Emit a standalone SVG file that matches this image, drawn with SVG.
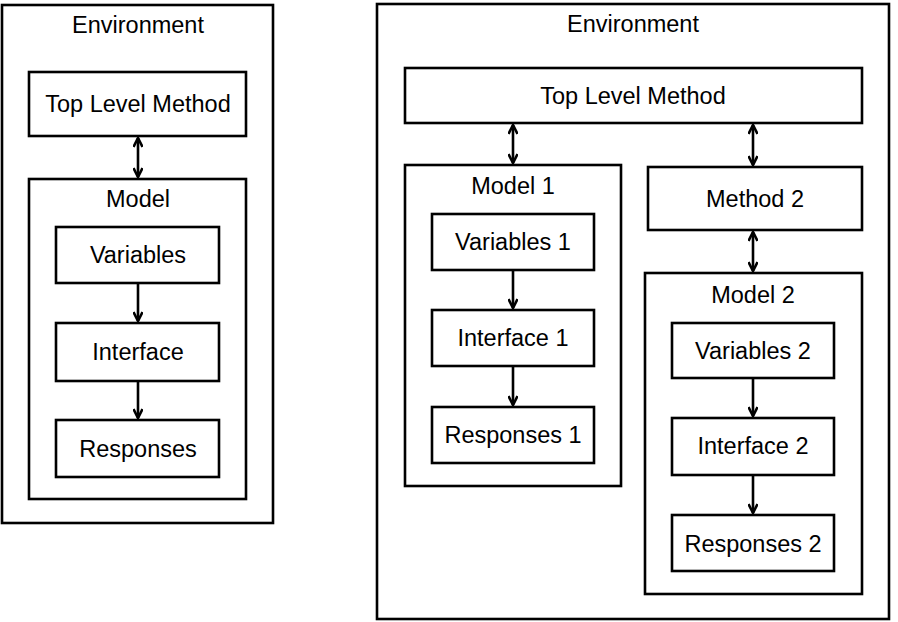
<svg xmlns="http://www.w3.org/2000/svg" width="898" height="622" viewBox="0 0 898 622">
<defs>
<style>
.box{fill:#fff;stroke:#000;stroke-width:2.6}
.t{font-family:"Liberation Sans",Arial,sans-serif;font-size:23.5px;fill:#000;text-anchor:middle}
.c{stroke:#000;stroke-width:2.6;fill:none}
</style>
<marker id="ah" viewBox="0 0 12 10" refX="10" refY="5" markerWidth="12" markerHeight="10" markerUnits="userSpaceOnUse" orient="auto-start-reverse">
<path d="M1,0.5 L10,5 L1,9.5" fill="none" stroke="#000" stroke-width="2.6"/>
</marker>
</defs>
<rect width="898" height="622" fill="#fff"/>
<g id="env1"><rect class="box" x="2" y="5" width="271" height="518"/><text class="t" x="138" y="33">Environment</text></g>
<g id="tlm1"><rect class="box" x="29" y="72" width="217" height="64"/><text class="t" x="138" y="112">Top Level Method</text></g>
<g id="model"><rect class="box" x="29" y="179" width="217" height="320"/><text class="t" x="138" y="207">Model</text></g>
<g id="vars"><rect class="box" x="56" y="227" width="163" height="56"/><text class="t" x="138" y="263">Variables</text></g>
<g id="iface"><rect class="box" x="56" y="323" width="163" height="58"/><text class="t" x="138" y="360">Interface</text></g>
<g id="resp"><rect class="box" x="56" y="420" width="163" height="57"/><text class="t" x="138" y="457">Responses</text></g>
<g id="env2"><rect class="box" x="377" y="4" width="512" height="615"/><text class="t" x="633" y="32">Environment</text></g>
<g id="tlm2"><rect class="box" x="405" y="68" width="457" height="55"/><text class="t" x="633" y="104">Top Level Method</text></g>
<g id="model1"><rect class="box" x="405" y="165" width="216" height="321"/><text class="t" x="513" y="194">Model 1</text></g>
<g id="vars1"><rect class="box" x="432" y="214" width="162" height="56"/><text class="t" x="513" y="250">Variables 1</text></g>
<g id="iface1"><rect class="box" x="432" y="310" width="162" height="56"/><text class="t" x="513" y="346">Interface 1</text></g>
<g id="resp1"><rect class="box" x="432" y="407" width="162" height="56"/><text class="t" x="513" y="443">Responses 1</text></g>
<g id="method2"><rect class="box" x="648" y="167" width="214" height="63"/><text class="t" x="755" y="207">Method 2</text></g>
<g id="model2"><rect class="box" x="645" y="273" width="217" height="321"/><text class="t" x="753" y="303">Model 2</text></g>
<g id="vars2"><rect class="box" x="672" y="323" width="162" height="55"/><text class="t" x="753" y="359">Variables 2</text></g>
<g id="iface2"><rect class="box" x="672" y="418" width="162" height="57"/><text class="t" x="753" y="454">Interface 2</text></g>
<g id="resp2"><rect class="box" x="672" y="515" width="162" height="56"/><text class="t" x="753" y="552">Responses 2</text></g>
<g id="connectors">
<line class="c" x1="138" y1="138" x2="138" y2="177" marker-start="url(#ah)" marker-end="url(#ah)"/>
<line class="c" x1="138" y1="284" x2="138" y2="321" marker-end="url(#ah)"/>
<line class="c" x1="138" y1="382" x2="138" y2="418" marker-end="url(#ah)"/>
<line class="c" x1="513" y1="125" x2="513" y2="163" marker-start="url(#ah)" marker-end="url(#ah)"/>
<line class="c" x1="513" y1="271" x2="513" y2="308" marker-end="url(#ah)"/>
<line class="c" x1="513" y1="367" x2="513" y2="405" marker-end="url(#ah)"/>
<line class="c" x1="753" y1="125" x2="753" y2="165" marker-start="url(#ah)" marker-end="url(#ah)"/>
<line class="c" x1="753" y1="232" x2="753" y2="271" marker-start="url(#ah)" marker-end="url(#ah)"/>
<line class="c" x1="753" y1="379" x2="753" y2="416" marker-end="url(#ah)"/>
<line class="c" x1="753" y1="476" x2="753" y2="513" marker-end="url(#ah)"/>
</g>
</svg>
